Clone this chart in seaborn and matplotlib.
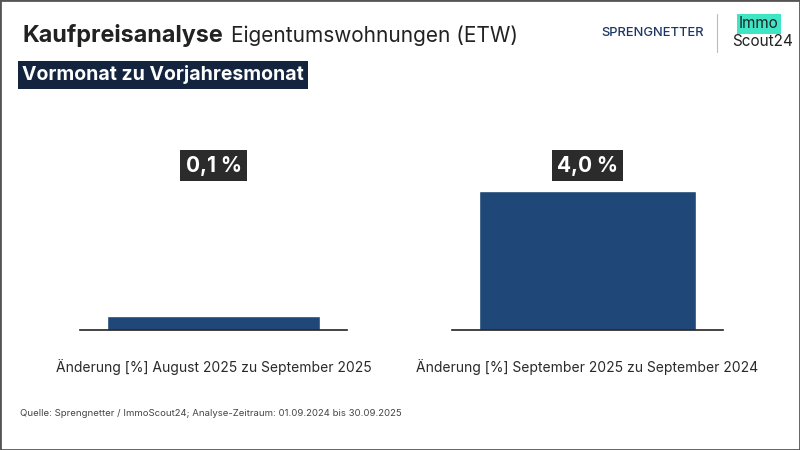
import matplotlib
matplotlib.use("Agg")
import matplotlib.pyplot as plt
import seaborn as sns
from matplotlib.patches import Rectangle

# data
categories = ["Änderung [%] August 2025 zu September 2025",
              "Änderung [%] September 2025 zu September 2024"]
values = [0.1, 4.0]
value_labels = ["0,1 %", "4,0 %"]
# each panel has its own scale (small value shown with a minimum visible height)
y_tops = [1.36, 5.47]

sns.set_theme(style="white")
plt.rcParams["font.family"] = ["Inter", "DejaVu Sans"]

bar_color = "#1f4777"
navy = "#14243f"

fig = plt.figure(figsize=(8, 4.5), dpi=100)

# axes positions in figure fractions (left, bottom, width, height)
positions = [[80 / 800, 120 / 450, 267 / 800, 190 / 450],
             [452 / 800, 120 / 450, 271 / 800, 190 / 450]]

for i in range(2):
    ax = fig.add_axes(positions[i])
    sns.barplot(x=[categories[i]], y=[values[i]], ax=ax, color=bar_color,
                width=0.8, saturation=1)
    ax.set_xlim(-0.5, 0.5)
    ax.set_ylim(0, y_tops[i])
    sns.despine(ax=ax, left=True)
    ax.spines["bottom"].set_color("#222222")
    ax.spines["bottom"].set_linewidth(1.2)
    ax.set_yticks([])
    ax.set_ylabel("")
    ax.tick_params(axis="x", length=0, pad=21, labelsize=10, labelcolor="#2a2a2a")
    ax.text(0, 0.865, value_labels[i], transform=ax.get_xaxis_transform(),
            ha="center", va="center", fontsize=15, fontweight="bold", color="white",
            bbox=dict(boxstyle="square,pad=0.25", fc="#2b2b2b", ec="none"))
    ax.set_facecolor("none")

# title
fig.text(22 / 800, 1 - 42 / 450, "Kaufpreisanalyse", fontsize=16.8, fontweight="bold",
         color="#222222", va="baseline")
fig.text(231 / 800, 1 - 42 / 450, "Eigentumswohnungen (ETW)", fontsize=15,
         color="#222222", va="baseline")
fig.text(22 / 800, 1 - 75 / 450, "Vormonat zu Vorjahresmonat", fontsize=14,
         fontweight="bold", color="white", va="center",
         bbox=dict(boxstyle="square,pad=0.22", fc=navy, ec="none"))

# logos
fig.text(601 / 800, 1 - 33 / 450, "SPRENGNETTER", fontsize=9.3, fontweight="medium",
         color="#1b3566", va="center")
fig.add_artist(plt.Line2D([717 / 800, 717 / 800], [1 - 14 / 450, 1 - 52 / 450],
                          color="#bbbbbb", lw=0.8))
fig.text(739 / 800, 1 - 24 / 450, "Immo", fontsize=11, color="#222222", va="center",
         bbox=dict(boxstyle="square,pad=0.15", fc="#3ee6c6", ec="none"))
fig.text(732 / 800, 1 - 42 / 450, "Scout24", fontsize=11, color="#222222", va="center")

# source
fig.text(20 / 800, 1 - 413 / 450,
         "Quelle: Sprengnetter / ImmoScout24; Analyse-Zeitraum: 01.09.2024 bis 30.09.2025",
         fontsize=6.9, color="#444444", va="center")

# border
fig.add_artist(Rectangle((0, 0), 1, 1, transform=fig.transFigure, fill=False,
                         ec="#555555", lw=2))

fig.savefig("out.png", dpi=100)
